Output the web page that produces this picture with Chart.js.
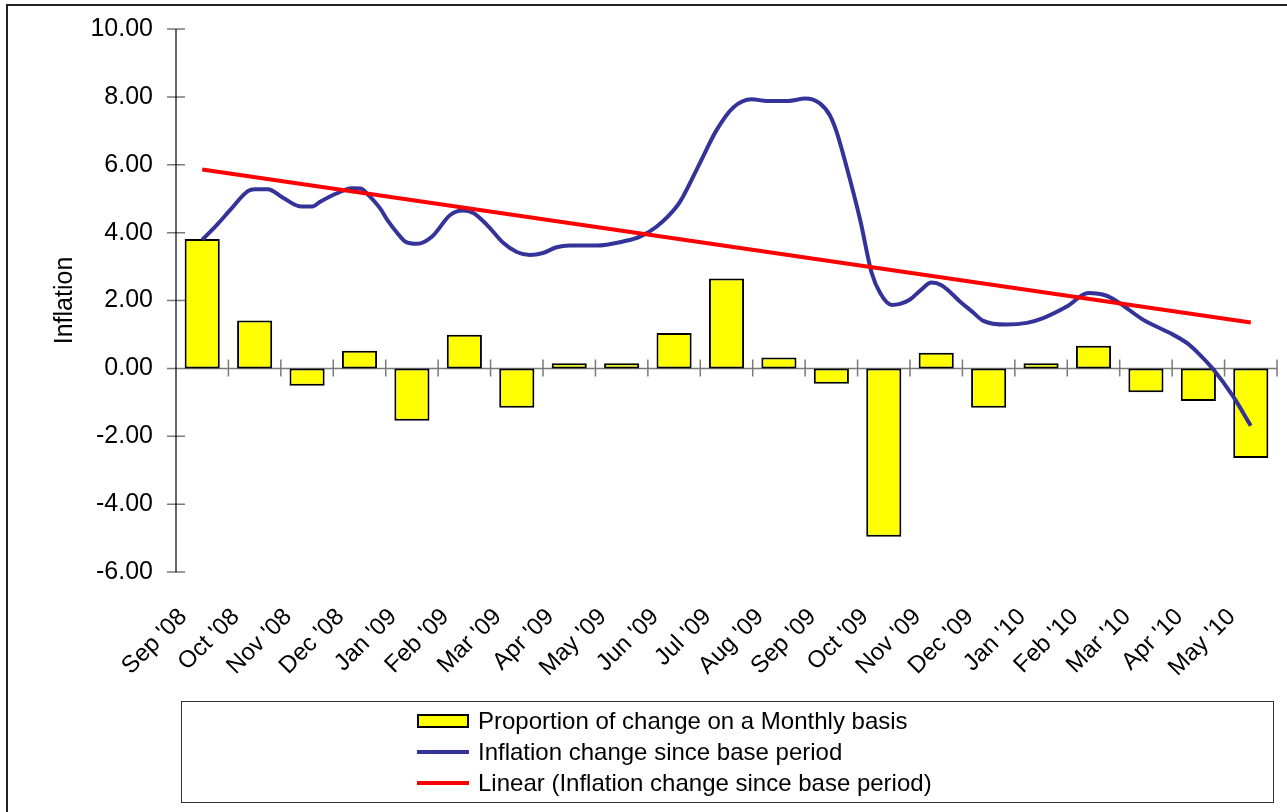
<!DOCTYPE html>
<html>
<head>
<meta charset="utf-8">
<title>Inflation</title>
<script src="https://cdn.jsdelivr.net/npm/chart.js@4.4.1/dist/chart.umd.min.js"></script>
<style>
    html, body { margin: 0; padding: 0; background: #fff; overflow: hidden; }
    #wrap { position: relative; width: 1287px; height: 812px; }
    #frame { position: absolute; left: 6px; top: 4px; width: 1300px; height: 830px; border: 2px solid #222; }
    #chart { position: absolute; left: 0; top: 0; }
    #legend {
        position: absolute; left: 181px; top: 701px; width: 1093px; height: 102px;
        border: 1.5px solid #333; box-sizing: border-box;
        font: 24px "Liberation Sans", Arial, sans-serif; color: #000;
        padding: 3px 0 0 235px;
    }
    .legend-row { height: 31px; line-height: 31px; display: flex; align-items: center; }
    .legend-swatch { width: 52px; margin-right: 9px; box-sizing: border-box; }
</style>
</head>
<body>
<div id="wrap">
    <div id="frame"></div>
    <canvas id="chart" width="1287" height="812"></canvas>
    <div id="legend"></div>
</div>
<script>
// Month categories
const months = ["Sep '08", "Oct '08", "Nov '08", "Dec '08", "Jan '09", "Feb '09", "Mar '09",
    "Apr '09", "May '09", "Jun '09", "Jul '09", "Aug '09", "Sep '09", "Oct '09", "Nov '09",
    "Dec '09", "Jan '10", "Feb '10", "Mar '10", "Apr '10", "May '10"];

// Proportion of change on a Monthly basis (bars)
const monthlyChange = [3.81, 1.41, -0.51, 0.52, -1.54, 0.99, -1.16, 0.15, 0.15, 1.04, 2.65,
    0.32, -0.45, -4.96, 0.46, -1.16, 0.15, 0.67, -0.70, -0.96, -2.64];

// Inflation change since base period: position in months from Sep '08, and value
const inflationPos = [0, 0.28, 0.53, 0.87, 1.0, 1.25, 1.54, 1.85, 2.1, 2.25, 2.57, 2.85, 3.02,
    3.2, 3.39, 3.55, 3.72, 3.87, 4.1, 4.38, 4.73, 4.97, 5.17, 5.43, 5.74, 6.0, 6.25, 6.5, 6.76,
    7.01, 7.52, 8.03, 8.35, 8.67, 9.05, 9.17, 9.49, 9.81, 10.13, 10.48, 10.77, 11.18, 11.5,
    11.78, 11.97, 12.1, 12.29, 12.55, 12.77, 12.93, 13.15, 13.31, 13.5, 13.7, 13.91, 14.1,
    14.49, 14.68, 14.9, 15.34, 15.73, 16.04, 16.49, 16.9, 17.25, 17.5, 17.95, 18.46, 18.78,
    19.03, 19.28, 19.66, 20.0];
const inflationValue = [3.79, 4.23, 4.66, 5.22, 5.28, 5.28, 5.03, 4.78, 4.77, 4.91, 5.16, 5.31,
    5.30, 5.06, 4.72, 4.33, 3.99, 3.74, 3.67, 3.88, 4.52, 4.65, 4.58, 4.23, 3.70, 3.43, 3.34,
    3.40, 3.57, 3.62, 3.62, 3.74, 3.88, 4.18, 4.77, 5.06, 6.04, 7.02, 7.69, 7.93, 7.88, 7.88,
    7.95, 7.81, 7.46, 6.97, 5.94, 4.37, 2.81, 2.22, 1.87, 1.90, 2.03, 2.30, 2.53, 2.45, 1.92,
    1.68, 1.40, 1.29, 1.34, 1.48, 1.82, 2.22, 2.14, 1.92, 1.43, 1.04, 0.75, 0.40, -0.02,
    -0.82, -1.69];

// Linear trend endpoints
const trendPos = [0, 20];
const trendValue = [5.86, 1.35];

// Y axis range
const yMin = -6;
const yMax = 10;
const yStep = 2;

const FONT = '"Liberation Sans", Arial, sans-serif';
Chart.defaults.font.family = FONT;
Chart.defaults.color = '#000';

/**
 * Draw the Excel-style axes: y axis line, crossing tick marks, zero line with month ticks
 */
const excelAxes = {
    id: 'excelAxes',
    beforeDatasetsDraw(chart) {
        const { ctx, chartArea: a, scales: { x, y } } = chart;
        const y0 = y.getPixelForValue(0);
        ctx.save();
        ctx.strokeStyle = '#7a7a7a';
        ctx.lineWidth = 1.5;
        ctx.beginPath();
        ctx.moveTo(a.left, y0);
        ctx.lineTo(a.right, y0);
        for (let i = 0; i < months.length; i++) {
            const bx = x.getPixelForValue(i + 0.5);
            ctx.moveTo(bx, y0 - 9);
            ctx.lineTo(bx, y0 + 8);
        }
        y.ticks.forEach(t => {
            const py = y.getPixelForValue(t.value);
            ctx.moveTo(a.left - 9, py);
            ctx.lineTo(a.left + 9, py);
        });
        ctx.stroke();
        ctx.strokeStyle = '#000';
        ctx.lineWidth = 1.2;
        ctx.beginPath();
        ctx.moveTo(a.left, a.top);
        ctx.lineTo(a.left, a.bottom);
        ctx.stroke();
        ctx.restore();
    }
};

const chart = new Chart(document.getElementById('chart'), {
    type: 'bar',
    data: {
        datasets: [
            {
                label: 'Proportion of change on a Monthly basis',
                data: monthlyChange.map((v, i) => ({ x: i, y: v })),
                backgroundColor: '#ffff00',
                borderColor: '#000',
                borderWidth: 2,
                borderSkipped: false,
                grouped: false,
                barPercentage: 0.67,
                categoryPercentage: 1,
                order: 3,
            },
            {
                type: 'line',
                label: 'Inflation change since base period',
                data: inflationPos.map((p, i) => ({ x: p, y: inflationValue[i] })),
                borderColor: '#333399',
                borderWidth: 4,
                pointRadius: 0,
                cubicInterpolationMode: 'monotone',
                order: 2,
            },
            {
                type: 'line',
                label: 'Linear (Inflation change since base period)',
                data: trendPos.map((p, i) => ({ x: p, y: trendValue[i] })),
                borderColor: '#ff0000',
                borderWidth: 4,
                pointRadius: 0,
                order: 1,
            },
        ],
    },
    options: {
        responsive: false,
        animation: false,
        devicePixelRatio: 1,
        layout: { padding: { top: 29, right: 10, left: 0, bottom: 0 } },
        plugins: {
            legend: { display: false },
            tooltip: { enabled: false },
        },
        scales: {
            x: {
                type: 'linear',
                offset: false,
                min: -0.5,
                max: months.length - 0.5,
                grid: { display: false, drawTicks: false, offset: false },
                border: { display: false },
                afterBuildTicks: s => { s.ticks = months.map((m, i) => ({ value: i })); },
                ticks: {
                    autoSkip: false,
                    minRotation: 45,
                    maxRotation: 45,
                    labelOffset: -19,
                    padding: 31,
                    color: '#000',
                    font: { size: 24 },
                    callback: (v, i) => months[i],
                },
                afterFit: s => { s.height = 240; s.paddingLeft = 0; s.paddingRight = 0; },
            },
            y: {
                min: yMin,
                max: yMax,
                grid: { display: false, drawTicks: false },
                border: { display: false },
                ticks: {
                    stepSize: yStep,
                    padding: 23,
                    color: '#000',
                    font: { size: 25 },
                    callback: v => v.toFixed(2),
                },
                title: {
                    display: true,
                    text: 'Inflation',
                    color: '#000',
                    font: { size: 25 },
                    padding: { top: 50, bottom: 0 },
                },
                afterFit: s => { s.width = 176; s.paddingTop = 0; s.paddingBottom = 0; },
            },
        },
    },
    plugins: [excelAxes],
});

// Legend built from the datasets
const legend = document.getElementById('legend');
chart.data.datasets.forEach(ds => {
    const row = document.createElement('div');
    row.className = 'legend-row';
    const sw = document.createElement('div');
    sw.className = 'legend-swatch';
    if (ds.type === 'line') {
        sw.style.height = '4px';
        sw.style.background = ds.borderColor;
    } else {
        sw.style.height = '14px';
        sw.style.background = ds.backgroundColor;
        sw.style.border = '2px solid #000';
    }
    const txt = document.createElement('span');
    txt.textContent = ds.label;
    row.appendChild(sw);
    row.appendChild(txt);
    legend.appendChild(row);
});
</script>
</body>
</html>
